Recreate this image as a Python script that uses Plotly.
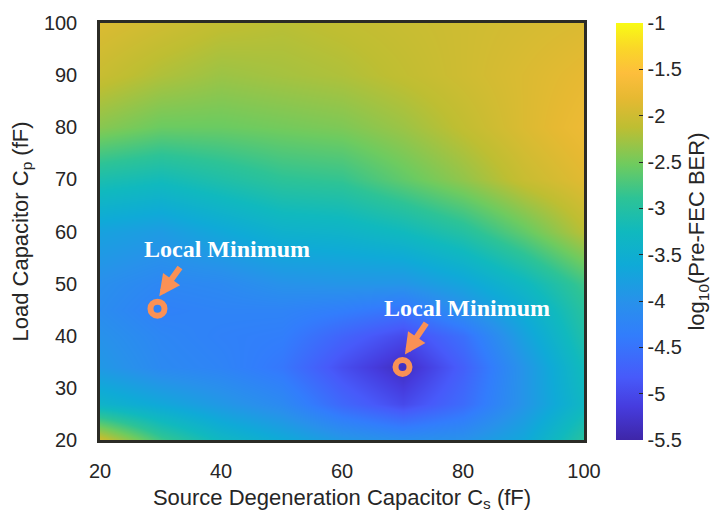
import plotly.graph_objects as go

# Grid of capacitor values (fF)
cs_values = [20, 30, 40, 50, 60, 70, 80, 90, 100]
cp_values = [20, 27, 34, 40, 45, 50, 60, 70, 80, 90, 100]

# log10(Pre-FEC BER), one row per Cp value (rows ascending in Cp)
ber_y20 = [-2.00, -2.80, -3.30, -3.60, -3.90, -4.05, -4.00, -3.65, -2.95]
ber_y27 = [-3.40, -3.65, -3.90, -4.15, -4.65, -5.00, -4.60, -3.95, -3.30]
ber_y34 = [-3.90, -4.15, -4.25, -4.45, -4.95, -5.35, -4.75, -3.95, -3.20]
ber_y40 = [-4.00, -4.20, -4.30, -4.35, -4.70, -5.00, -4.55, -3.75, -3.05]
ber_y45 = [-4.10, -4.30, -4.25, -4.25, -4.35, -4.50, -4.05, -3.55, -2.95]
ber_y50 = [-4.05, -4.20, -4.15, -4.00, -3.95, -3.95, -3.70, -3.30, -2.80]
ber_y60 = [-3.75, -3.85, -3.65, -3.45, -3.40, -3.25, -3.00, -2.60, -2.15]
ber_y70 = [-3.10, -3.20, -3.05, -2.90, -2.85, -2.60, -2.35, -2.05, -1.85]
ber_y80 = [-2.40, -2.55, -2.55, -2.50, -2.45, -2.30, -2.10, -1.90, -1.72]
ber_y90 = [-2.05, -2.20, -2.30, -2.25, -2.20, -2.10, -2.00, -1.90, -1.80]
ber_y100 = [-1.90, -2.00, -2.10, -2.15, -2.10, -2.05, -2.00, -1.95, -1.90]

ber_grid = [ber_y20, ber_y27, ber_y34, ber_y40, ber_y45, ber_y50,
            ber_y60, ber_y70, ber_y80, ber_y90, ber_y100]

# Local minima markers and their label/arrow placement
min_cs = [29.5, 70.0]
min_cp = [45.2, 34.0]
label_cs = [41.0, 80.7]
label_cp = [56.6, 45.3]
arrow_tail_cs = [33.4, 74.1]
arrow_tail_cp = [53.4, 42.7]
arrow_tip_cs = [29.8, 70.4]
arrow_tip_cp = [47.6, 36.4]
label_text = ["Local Minimum", "Local Minimum"]

# Colour bar ticks
cbar_ticks = [-1, -1.5, -2, -2.5, -3, -3.5, -4, -4.5, -5, -5.5]
cbar_labels = ["-1", "-1.5", "-2", "-2.5", "-3", "-3.5", "-4", "-4.5", "-5", "-5.5"]

# Parula-like colour map
parula = [
    [0.000, "rgb(62,38,168)"],
    [0.080, "rgb(70,60,222)"],
    [0.150, "rgb(71,90,250)"],
    [0.250, "rgb(50,125,252)"],
    [0.330, "rgb(40,145,235)"],
    [0.420, "rgb(15,170,215)"],
    [0.500, "rgb(16,185,190)"],
    [0.580, "rgb(45,195,150)"],
    [0.660, "rgb(110,203,95)"],
    [0.750, "rgb(190,190,50)"],
    [0.820, "rgb(230,185,50)"],
    [0.880, "rgb(253,190,60)"],
    [0.940, "rgb(250,215,40)"],
    [1.000, "rgb(249,251,20)"],
]

ORANGE = "#FA9155"
TEXT = "#262626"
SANS = "Liberation Sans, Arial, sans-serif"
SERIF = "Liberation Serif, Times New Roman, serif"

fig = go.Figure()

fig.add_trace(go.Heatmap(
    x=cs_values, y=cp_values, z=ber_grid,
    zmin=-5.5, zmax=-1, zsmooth="best",
    colorscale=parula, hoverinfo="skip",
    colorbar=dict(
        x=1.066, xanchor="left", xpad=0,
        y=0.5, yanchor="middle", ypad=0,
        len=1, lenmode="fraction", thickness=27,
        outlinewidth=0,
        tickmode="array", tickvals=cbar_ticks, ticktext=cbar_labels,
        ticks="inside", ticklen=4, tickwidth=1, tickcolor=TEXT,
        tickfont=dict(family=SANS, size=20, color=TEXT),
        title=dict(text="log<sub>10</sub>(Pre-FEC BER)", side="right",
                   font=dict(family=SANS, size=22, color=TEXT)),
    ),
))

fig.add_trace(go.Scatter(
    x=min_cs, y=min_cp, mode="markers", hoverinfo="skip", showlegend=False,
    marker=dict(symbol="circle-open", size=14,
                line=dict(color=ORANGE, width=6), color=ORANGE),
))

for i in range(len(min_cs)):
    fig.add_annotation(
        x=arrow_tip_cs[i], y=arrow_tip_cp[i], xref="x", yref="y",
        ax=arrow_tail_cs[i], ay=arrow_tail_cp[i], axref="x", ayref="y",
        showarrow=True, arrowhead=2, arrowsize=0.7, arrowwidth=6,
        arrowcolor=ORANGE, standoff=0, text="",
    )
    fig.add_annotation(
        x=label_cs[i], y=label_cp[i], xref="x", yref="y",
        text="<b>" + label_text[i] + "</b>", showarrow=False,
        font=dict(family=SERIF, size=24, color="white"),
    )

fig.update_xaxes(
    range=[20, 100], tickvals=[20, 40, 60, 80, 100],
    showline=True, mirror=True, linecolor="#2b2b26", linewidth=2.5,
    ticks="outside", ticklen=11, tickcolor="rgba(0,0,0,0)",
    showgrid=False, zeroline=False,
    tickfont=dict(family=SANS, size=20, color=TEXT),
    title=dict(text="Source Degeneration Capacitor C<sub>s</sub> (fF)",
               font=dict(family=SANS, size=22, color=TEXT), standoff=9),
)
fig.update_yaxes(
    range=[20, 100], tickvals=[20, 30, 40, 50, 60, 70, 80, 90, 100],
    showline=True, mirror=True, linecolor="#2b2b26", linewidth=2.5,
    ticks="outside", ticklen=16, tickcolor="rgba(0,0,0,0)",
    showgrid=False, zeroline=False,
    tickfont=dict(family=SANS, size=20, color=TEXT),
    title=dict(text="Load Capacitor C<sub>p</sub> (fF)",
               font=dict(family=SANS, size=22, color=TEXT), standoff=10),
)

fig.update_layout(
    width=723, height=518, autosize=False,
    margin=dict(l=100, r=139, t=18, b=76),
    paper_bgcolor="white", plot_bgcolor="white",
    showlegend=False,
)

fig.write_html("out.html")
